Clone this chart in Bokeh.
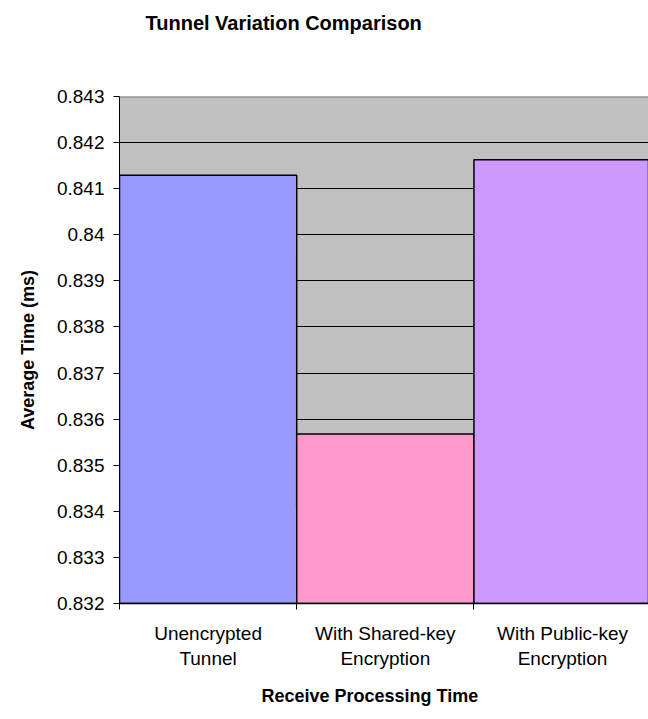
from bokeh.plotting import figure
from bokeh.models import Range1d, FixedTicker, CustomJSTickFormatter, Span, Title
from bokeh.embed import file_html
from bokeh.resources import INLINE

categories = ["Unencrypted\nTunnel", "With Shared-key\nEncryption", "With Public-key\nEncryption"]
values = [0.84129, 0.83568, 0.84163]
colors = ["#9999FF", "#FF99CC", "#CC99FF"]
y_ticks = [0.832, 0.833, 0.834, 0.835, 0.836, 0.837, 0.838, 0.839, 0.840, 0.841, 0.842, 0.843]

FONT = "Liberation Sans"

centers = [i + 0.5 for i in range(len(categories))]
bounds = [float(i) for i in range(len(categories) + 1)]

p = figure(width=648, height=717, output_backend="svg", toolbar_location=None, title=None,
           x_range=Range1d(0, 2.985), y_range=Range1d(y_ticks[0], y_ticks[-1]),
           min_border_left=119, min_border_right=0, min_border_top=0, min_border_bottom=114)

# spacer between frame and title, then the title itself (outermost)
p.add_layout(Title(text=" ", text_font=FONT, text_font_size="10px", standoff=37), "above")
p.add_layout(Title(text="Tunnel Variation Comparison", text_font=FONT, text_font_size="20px",
                   text_font_style="bold", text_color="black", align="left", offset=26,
                   vertical_align="top", standoff=22), "above")

p.background_fill_color = "#C0C0C0"
p.border_fill_color = "white"
p.outline_line_color = None

p.vbar(x=centers, width=1, bottom=y_ticks[0], top=values, fill_color=colors,
       line_color="black", line_width=1.5)

p.add_layout(Span(location=y_ticks[-1], dimension="width", line_color="#808080", line_width=2))

# y axis
p.yaxis.ticker = FixedTicker(ticks=y_ticks)
p.yaxis.formatter = CustomJSTickFormatter(code="return tick.toFixed(3).replace(/0+$/, '')")
p.yaxis.axis_label = "Average Time (ms)"
p.yaxis.axis_label_text_font = FONT
p.yaxis.axis_label_text_font_size = "18px"
p.yaxis.axis_label_text_font_style = "bold"
p.yaxis.axis_label_text_color = "black"
p.yaxis.axis_label_standoff = 16
p.yaxis.major_label_text_font = FONT
p.yaxis.major_label_text_font_size = "19px"
p.yaxis.major_label_text_color = "black"
p.yaxis.major_label_standoff = 9
p.yaxis.major_tick_out = 6
p.yaxis.major_tick_in = 0
p.yaxis.minor_tick_line_color = None
p.yaxis.axis_line_color = "black"
p.yaxis.major_tick_line_color = "black"

p.ygrid.ticker = FixedTicker(ticks=y_ticks)
p.ygrid.grid_line_color = "black"
p.ygrid.grid_line_width = 1
p.xgrid.grid_line_color = None

# x axis
p.xaxis.ticker = FixedTicker(ticks=centers, minor_ticks=bounds)
p.xaxis.major_label_overrides = {c: lab for c, lab in zip(centers, categories)}
p.xaxis.major_tick_out = 0
p.xaxis.major_tick_in = 0
p.xaxis.minor_tick_out = 6
p.xaxis.minor_tick_in = 0
p.xaxis.minor_tick_line_color = "black"
p.xaxis.axis_line_color = "black"
p.xaxis.axis_line_width = 1.5
p.xaxis.major_label_text_font = FONT
p.xaxis.major_label_text_font_size = "19px"
p.xaxis.major_label_text_color = "black"
p.xaxis.major_label_standoff = 13

p.add_layout(Title(text="Receive Processing Time", text_font=FONT, text_font_size="18px",
                   text_font_style="bold", text_color="black", align="left",
                   offset=142, standoff=24), "below")

open("out.html", "w").write(file_html(p, INLINE))
